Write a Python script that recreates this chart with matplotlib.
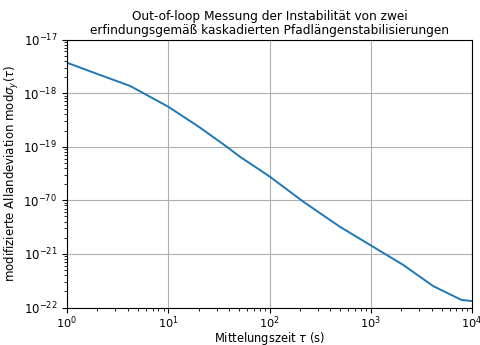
import numpy as np
import matplotlib.pyplot as plt

# Messpunkte
tau = [1, 2, 4.2, 10, 20, 37.8, 51, 80.5, 101, 216, 497, 984, 2100, 4150, 7900, 10000]
mod_sigma = [3.69e-18, 2.27e-18, 1.36e-18, 5.57e-19, 2.36e-19, 1.0e-19, 6.5e-20, 3.67e-20,
             2.75e-20, 9.4e-21, 3.2e-21, 1.47e-21, 6.2e-22, 2.5e-22, 1.38e-22, 1.32e-22]

y_ticks = [1e-22, 1e-21, 1e-20, 1e-19, 1e-18, 1e-17]
y_labels = [r'$10^{-22}$', r'$10^{-21}$', r'$10^{-70}$', r'$10^{-19}$', r'$10^{-18}$', r'$10^{-17}$']

fig = plt.figure(figsize=(4.8, 3.45), dpi=100)
ax = fig.add_axes([67 / 480, 1 - 307.5 / 345, 405 / 480, 268 / 345])

ax.loglog(tau, mod_sigma, color='tab:blue', linewidth=1.4)
ax.set_xlim(1, 1e4)
ax.set_ylim(1e-22, 1e-17)
ax.set_yticks(y_ticks)
ax.set_yticklabels(y_labels)
ax.grid(True, which='major', color='#b0b0b0', linewidth=0.8)
ax.tick_params(axis='y', labelsize=8.5)
ax.tick_params(axis='x', labelsize=8.2, pad=1.5)

ax.set_xlabel(r'Mittelungszeit $\tau$ (s)', fontsize=8.3, labelpad=-0.5)
ax.set_ylabel(r'modifizierte Allandeviation mod$\sigma_y(\tau)$', fontsize=8.5, labelpad=2)
ax.set_title('Out-of-loop Messung der Instabilität von zwei\n'
             'erfindungsgemäß kaskadierten Pfadlängenstabilisierungen', fontsize=8.7, pad=4,
             linespacing=1.05)

fig.savefig('out.png', dpi=100)
